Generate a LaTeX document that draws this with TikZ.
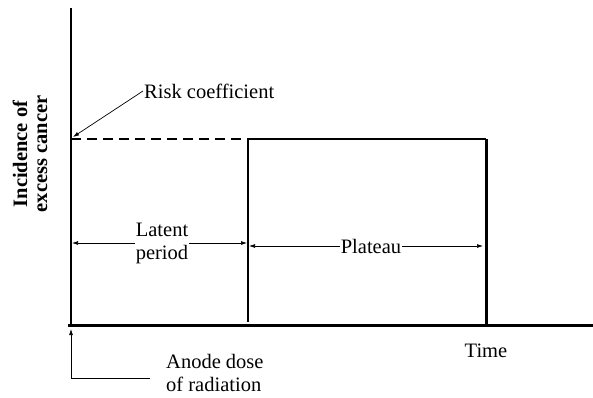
\documentclass[tikz,border=0pt]{standalone}
\usepackage{fontspec}
\setmainfont{Liberation Serif}
\usepackage{tikz}
\usetikzlibrary{arrows.meta}

\begin{document}
\begin{tikzpicture}[x=1pt,y=-1pt,>={Latex[length=6pt,width=4pt]},
    lbl/.style={font=\fontsize{20.5}{23}\selectfont,inner sep=1pt},
    thin arrow/.style={->,line width=0.7pt}]
        \useasboundingbox (0,0) rectangle (593,398);
        % axes
        \coordinate (O) at (71,325); \coordinate (ytop) at (71,8); \coordinate (xend) at (593,325);
        \draw[line width=1.3pt] (ytop)--(O);
        \draw[line width=3pt] (68,325)--(xend);
        % risk curve
        \coordinate (rc) at (71,139); \coordinate (onset) at (248,139); \coordinate (stop) at (486,139);
        \draw[line width=2pt,dash pattern=on 10pt off 6pt] (rc)--(onset);
        \draw[line width=2pt] (onset)--(stop);
        \draw[line width=3pt] (stop)--(stop |- O);
        \draw[line width=1.7pt] (onset)--(248,322);
        % labels
        \node[lbl,rotate=90,align=center,font=\fontsize{20.5}{20}\selectfont\bfseries] (ylab) at (30,154) {Incidence of\\excess cancer};
        \node[lbl,anchor=west] (risk) at (143,91) {Risk coefficient};
        \draw[thin arrow] (risk.west)--([shift={(2,-2)}]rc);
        \node[lbl,align=center] (latent) at (162,243) {Latent\\period};
        \draw[thin arrow] (latent.west)--([xshift=1pt]latent.west -| O);
        \draw[thin arrow] (latent.east)--([xshift=-1pt]latent.east -| onset);
        \node[lbl] (plat) at (371,246) {Plateau};
        \draw[thin arrow] (plat.west)--([xshift=1pt]plat.west -| onset);
        \draw[thin arrow] (plat.east)--([xshift=-3pt]plat.east -| stop);
        \node[lbl] (time) at (486,351) {Time};
        \node[lbl,align=left,anchor=west] (dose) at (165,373) {Anode dose\\of radiation};
        \coordinate (dk) at (150,378);
        \draw[->,line width=0.7pt] (dk) -| ([yshift=-4pt]O);
    \end{tikzpicture}
\end{document}
